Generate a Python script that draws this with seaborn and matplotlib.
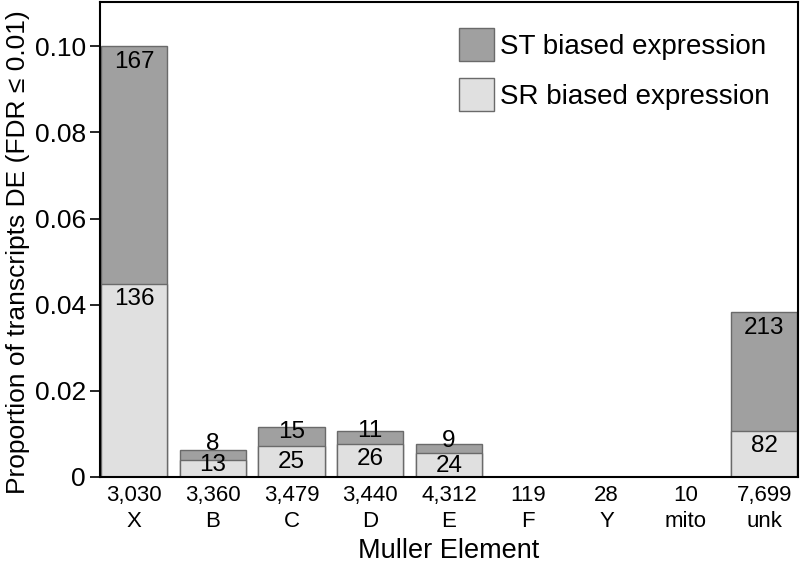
import matplotlib
matplotlib.use("Agg")
import matplotlib.pyplot as plt
import matplotlib.patches as mpatches
import seaborn as sns
import pandas as pd

# chromosome (Muller element) labels and transcript totals
elements = ["X", "B", "C", "D", "E", "F", "Y", "mito", "unk"]
n_transcripts = [3030, 3360, 3479, 3440, 4312, 119, 28, 10, 7699]

# number of DE transcripts per bias direction
sr_counts = [136, 13, 25, 26, 24, 0, 0, 0, 82]
st_counts = [167, 8, 15, 11, 9, 0, 0, 0, 213]

sns.set_style("white")
plt.rcParams["font.family"] = ["Liberation Sans", "DejaVu Sans"]
plt.rcParams["text.color"] = "black"
plt.rcParams["axes.labelcolor"] = "black"
plt.rcParams["xtick.color"] = "black"
plt.rcParams["ytick.color"] = "black"

ST_COLOR = "#a0a0a0"
SR_COLOR = "#e0e0e0"
EDGE = "#6a6a6a"

df = pd.DataFrame({"element": elements, "n": n_transcripts,
                   "sr": sr_counts, "st": st_counts})
df["sr_prop"] = df["sr"] / df["n"]
df["total_prop"] = (df["sr"] + df["st"]) / df["n"]

fig = plt.figure(figsize=(8, 5.63), dpi=100)
ax = fig.add_axes([0.125, 0.153, 0.8725, 0.8435])

sns.barplot(data=df, x="element", y="total_prop", order=elements, color=ST_COLOR,
            saturation=1, width=0.84, edgecolor=EDGE, linewidth=1, ax=ax)
sns.barplot(data=df, x="element", y="sr_prop", order=elements, color=SR_COLOR,
            saturation=1, width=0.84, edgecolor=EDGE, linewidth=1, ax=ax)

# count labels (pixel offsets from top of each segment)
st_dy = [-16, 6, -5, 0, 3, 0, 0, 0, -16]
sr_dy = [-15, -5, -16, -15, -13, 0, 0, 0, -15]
for i, row in df.iterrows():
    if row["st"] > 0:
        ax.annotate(str(row["st"]), xy=(i, row["total_prop"]),
                    xytext=(0, st_dy[i]), textcoords="offset pixels",
                    ha="center", va="center", fontsize=17.5)
    if row["sr"] > 0:
        ax.annotate(str(row["sr"]), xy=(i, row["sr_prop"]),
                    xytext=(0, sr_dy[i]), textcoords="offset pixels",
                    ha="center", va="center", fontsize=17.5)

ax.set_xlim(-0.43, 8.43)
ax.set_ylim(0, 0.1103)
ax.set_yticks([0, 0.02, 0.04, 0.06, 0.08, 0.10])
ax.set_yticklabels(["0", "0.02", "0.04", "0.06", "0.08", "0.10"], fontsize=19)
ax.set_xticks(range(len(elements)))
ax.set_xticklabels([f"{n:,}\n{e}" for n, e in zip(n_transcripts, elements)],
                   fontsize=16, linespacing=1.3)
ax.tick_params(axis="y", direction="out", length=7, width=1.2, left=True, pad=3)
ax.tick_params(axis="x", length=0, pad=6)

for s in ax.spines.values():
    s.set_color("black")
    s.set_linewidth(1.5)

ax.set_xlabel("Muller Element", fontsize=19.5, labelpad=4)
ax.set_ylabel("Proportion of transcripts DE (FDR \u2264 0.01)", fontsize=19,
              va="center")
ax.yaxis.set_label_coords(-0.118, 0.474)

handles = [mpatches.Patch(facecolor=ST_COLOR, edgecolor=EDGE, label="ST biased expression"),
           mpatches.Patch(facecolor=SR_COLOR, edgecolor=EDGE, label="SR biased expression")]
ax.legend(handles=handles, loc="upper left", bbox_to_anchor=(0.514, 0.945),
          frameon=False, fontsize=20, handlelength=1.26, handleheight=1.45,
          handletextpad=0.22, labelspacing=0.62, borderpad=0, borderaxespad=0)

fig.savefig("out.png", dpi=100)
